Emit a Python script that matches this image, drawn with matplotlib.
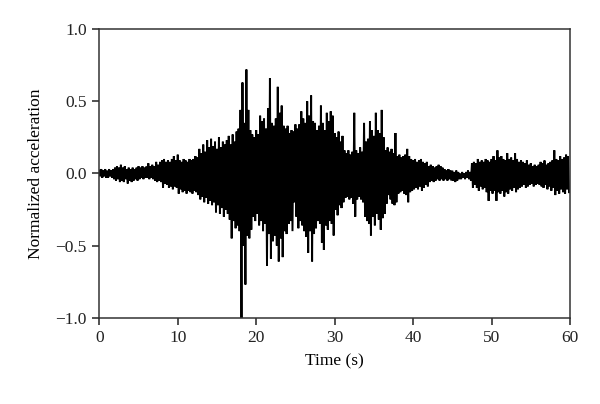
import numpy as np
import matplotlib
matplotlib.use("Agg")
import matplotlib.pyplot as plt

# peaks, one every 0.25 s (upper) and in between (lower)
upper = [
    0.02,0.03,0.02,0.03, 0.02,0.03,0.02,0.03,
    0.04,0.05,0.04,0.06, 0.04,0.05,0.03,0.04,
    0.03,0.04,0.03,0.04, 0.05,0.04,0.05,0.04,
    0.05,0.07,0.05,0.06, 0.05,0.08,0.06,0.08,
    0.09,0.10,0.08,0.09, 0.08,0.10,0.12,0.09,
    0.13,0.09,0.08,0.10, 0.09,0.08,0.10,0.09,
    0.10,0.12,0.11,0.17, 0.14,0.20,0.15,0.23,
    0.18,0.24,0.19,0.22, 0.17,0.25,0.18,0.22,
    0.20,0.23,0.26,0.20, 0.27,0.22,0.29,0.31,
    0.44,0.63,0.35,0.72, 0.44,0.30,0.27,0.25,
    0.30,0.27,0.40,0.36, 0.38,0.31,0.45,0.66,
    0.35,0.33,0.38,0.60, 0.42,0.47,0.33,0.31,
    0.33,0.28,0.30,0.29, 0.34,0.31,0.34,0.43,
    0.38,0.35,0.50,0.40, 0.54,0.36,0.35,0.30,
    0.33,0.47,0.35,0.30, 0.42,0.36,0.43,0.40,
    0.28,0.25,0.29,0.22, 0.26,0.16,0.14,0.16,
    0.13,0.15,0.42,0.16, 0.14,0.18,0.15,0.35,
    0.22,0.24,0.36,0.30, 0.26,0.42,0.30,0.28,
    0.44,0.25,0.16,0.18, 0.15,0.17,0.14,0.28,
    0.12,0.13,0.11,0.12, 0.13,0.17,0.12,0.10,
    0.09,0.10,0.08,0.09, 0.10,0.08,0.07,0.08,
    0.05,0.06,0.05,0.04, 0.05,0.06,0.05,0.04,
    0.03,0.02,0.03,0.02, 0.02,0.01,0.02,0.01,
    0.00,0.01,0.00,0.01, 0.02,0.01,0.07,0.08,
    0.07,0.10,0.08,0.09, 0.08,0.10,0.09,0.08,
    0.10,0.12,0.09,0.16, 0.11,0.12,0.10,0.09,
    0.14,0.10,0.11,0.09, 0.14,0.10,0.08,0.09,
    0.08,0.07,0.09,0.06, 0.07,0.05,0.06,0.05,
    0.06,0.08,0.07,0.09, 0.06,0.07,0.08,0.09,
    0.16,0.10,0.09,0.12, 0.10,0.11,0.13,0.12,
]
lower = [
    -0.02,-0.03,-0.02,-0.03, -0.03,-0.02,-0.03,-0.04,
    -0.05,-0.04,-0.06,-0.05, -0.06,-0.04,-0.07,-0.05,
    -0.06,-0.05,-0.04,-0.05, -0.04,-0.03,-0.04,-0.03,
    -0.03,-0.04,-0.03,-0.04, -0.05,-0.06,-0.05,-0.06,
    -0.10,-0.07,-0.08,-0.10, -0.09,-0.11,-0.09,-0.10,
    -0.14,-0.11,-0.13,-0.12, -0.14,-0.12,-0.13,-0.14,
    -0.12,-0.13,-0.15,-0.18, -0.16,-0.20,-0.17,-0.21,
    -0.19,-0.22,-0.20,-0.27, -0.22,-0.28,-0.24,-0.30,
    -0.25,-0.28,-0.32,-0.45, -0.33,-0.38,-0.36,-0.40,
    -1.02,-0.50,-0.77,-0.43, -0.45,-0.39,-0.30,-0.33,
    -0.28,-0.36,-0.33,-0.40, -0.35,-0.64,-0.42,-0.59,
    -0.47,-0.43,-0.50,-0.61, -0.45,-0.58,-0.40,-0.42,
    -0.35,-0.33,-0.40,-0.20, -0.30,-0.38,-0.33,-0.36,
    -0.40,-0.44,-0.55,-0.40, -0.61,-0.42,-0.38,-0.33,
    -0.35,-0.48,-0.53,-0.36, -0.39,-0.33,-0.35,-0.43,
    -0.25,-0.29,-0.22,-0.24, -0.20,-0.17,-0.16,-0.18,
    -0.17,-0.21,-0.30,-0.18, -0.16,-0.18,-0.20,-0.30,
    -0.33,-0.35,-0.43,-0.30, -0.36,-0.28,-0.32,-0.39,
    -0.31,-0.28,-0.21,-0.15, -0.18,-0.21,-0.22,-0.20,
    -0.14,-0.13,-0.12,-0.14, -0.15,-0.20,-0.13,-0.12,
    -0.11,-0.10,-0.11,-0.09, -0.12,-0.10,-0.08,-0.09,
    -0.06,-0.05,-0.06,-0.05, -0.04,-0.05,-0.04,-0.05,
    -0.04,-0.05,-0.04,-0.05, -0.05,-0.06,-0.05,-0.04,
    -0.04,-0.03,-0.04,-0.03, -0.04,-0.05,-0.10,-0.08,
    -0.10,-0.12,-0.09,-0.11, -0.10,-0.13,-0.19,-0.12,
    -0.14,-0.12,-0.19,-0.13, -0.14,-0.12,-0.16,-0.13,
    -0.14,-0.11,-0.12,-0.10, -0.13,-0.11,-0.10,-0.09,
    -0.08,-0.10,-0.09,-0.08, -0.07,-0.09,-0.08,-0.07,
    -0.08,-0.09,-0.10,-0.08, -0.11,-0.09,-0.12,-0.10,
    -0.15,-0.12,-0.14,-0.11, -0.13,-0.14,-0.11,-0.13,
]
dt = 0.25

xticks = [0,10,20,30,40,50,60]
yticks = [-1.0,-0.5,0.0,0.5,1.0]

# interleave peaks and troughs into one trace
n = len(upper)
t = np.empty(2*n)
a = np.empty(2*n)
t[0::2] = np.arange(n)*dt
t[1::2] = np.arange(n)*dt + dt/2
a[0::2] = upper
a[1::2] = lower

plt.rcParams["font.family"] = ["Liberation Serif","DejaVu Serif"]
plt.rcParams["font.size"] = 12.5

fig = plt.figure(figsize=(6,4.04),dpi=100)
ax = fig.add_axes([0.1655,0.2135,0.7845,0.7145])

ax.plot(t,a,color="black",lw=1.4,solid_joinstyle="miter")

ax.set_xlim(0,60)
ax.set_ylim(-1,1)
ax.set_xticks(xticks)
ax.set_yticks(yticks)
ax.set_yticklabels([f"{v:.1f}".replace("-","\u2212") for v in yticks])
ax.tick_params(direction="out",length=5,width=1.1,pad=4,colors="#222222")
for s in ax.spines.values():
    s.set_linewidth(1.1)
    s.set_color("#333333")

ax.set_xlabel("Time (s)",labelpad=5)
ax.set_ylabel("Normalized acceleration",labelpad=8)

fig.savefig("out.png",dpi=100)
